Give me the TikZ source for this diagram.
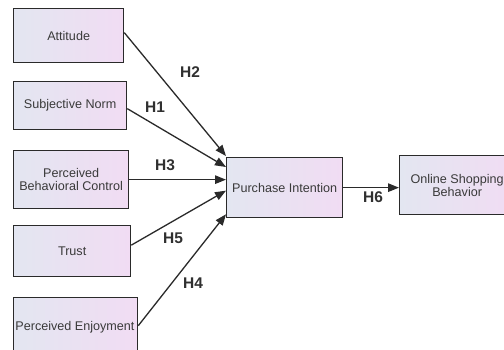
\documentclass[tikz,border=0pt]{standalone}
\usepackage{fontspec}
\setmainfont{Liberation Sans}
\usetikzlibrary{arrows.meta,positioning}
\definecolor{boxleft}{HTML}{E3E6F1}
\definecolor{boxright}{HTML}{F1DCF3}
\definecolor{edgegray}{HTML}{2A2A2A}
\definecolor{textgray}{HTML}{3A3A3A}
\definecolor{labelgray}{HTML}{303030}
\tikzset{
  construct/.style={draw=edgegray, line width=1.3pt, left color=boxleft, right color=boxright,
    anchor=north west, inner sep=0pt, align=center, text=textgray,
    font=\fontsize{12.6}{14}\selectfont},
  path/.style={draw=edgegray, line width=1.3pt, -{Triangle[length=11pt,width=8.5pt]}},
  hyp/.style={text=labelgray, font=\bfseries\fontsize{15.5}{17}\selectfont, inner sep=0pt}
}
\begin{document}
\begin{tikzpicture}[x=1pt,y=-1pt]
\useasboundingbox (0,0) rectangle (504,349);
\clip (0,0) rectangle (504,349);
\fill[white] (0,0) rectangle (504,349);

% predictor constructs
\node[construct, minimum width=110pt, minimum height=54pt] (att) at (13,8) {Attitude};
\node[construct, minimum width=113pt, minimum height=48pt] (sn) at (13,81) {Subjective Norm};
\node[construct, minimum width=115pt, minimum height=58pt] (pbc) at (13,150) {Perceived\\[-1pt]Behavioral Control};
\node[construct, minimum width=117pt, minimum height=51pt] (tr) at (13,225) {Trust};
\node[construct, minimum width=124pt, minimum height=56pt, text depth=0pt] (pe) at (13,297) {};
\node[text=textgray, font=\fontsize{12.6}{14}\selectfont, inner sep=0pt] (petxt) at (75,327) {Perceived Enjoyment};

% outcome constructs
\node[construct, minimum width=116pt, minimum height=60pt] (pi) at (226,157) {Purchase Intention};
\node[construct, minimum width=115pt, minimum height=59pt] (osb) at (399,155) {Online Shopping\\[-1pt]Behavior};

% hypothesised paths
\draw[path] ([yshift=3pt]att.east) -- ([yshift=1pt]pi.north west);
\draw[path] ([yshift=-3pt]sn.east) -- ([yshift=-10pt]pi.north west);
\draw[path] (pbc.east) -- (pbc.east -| pi.west);
\draw[path] ([yshift=6pt]tr.east) -- ([yshift=-3pt]pi.west);
\draw[path] (pe.east) -- ([yshift=4pt]pi.south west);
\draw[path] ([yshift=0pt]pi.east) -- (pi.east -| osb.west);

% hypothesis labels
\node[hyp] (h2) at (190,72) {H2};
\node[hyp] (h1) at (155,107) {H1};
\node[hyp] (h3) at (165,165) {H3};
\node[hyp] (h5) at (173,238) {H5};
\node[hyp] (h4) at (193,283) {H4};
\node[hyp] (h6) at (373,197) {H6};
\end{tikzpicture}
\end{document}
